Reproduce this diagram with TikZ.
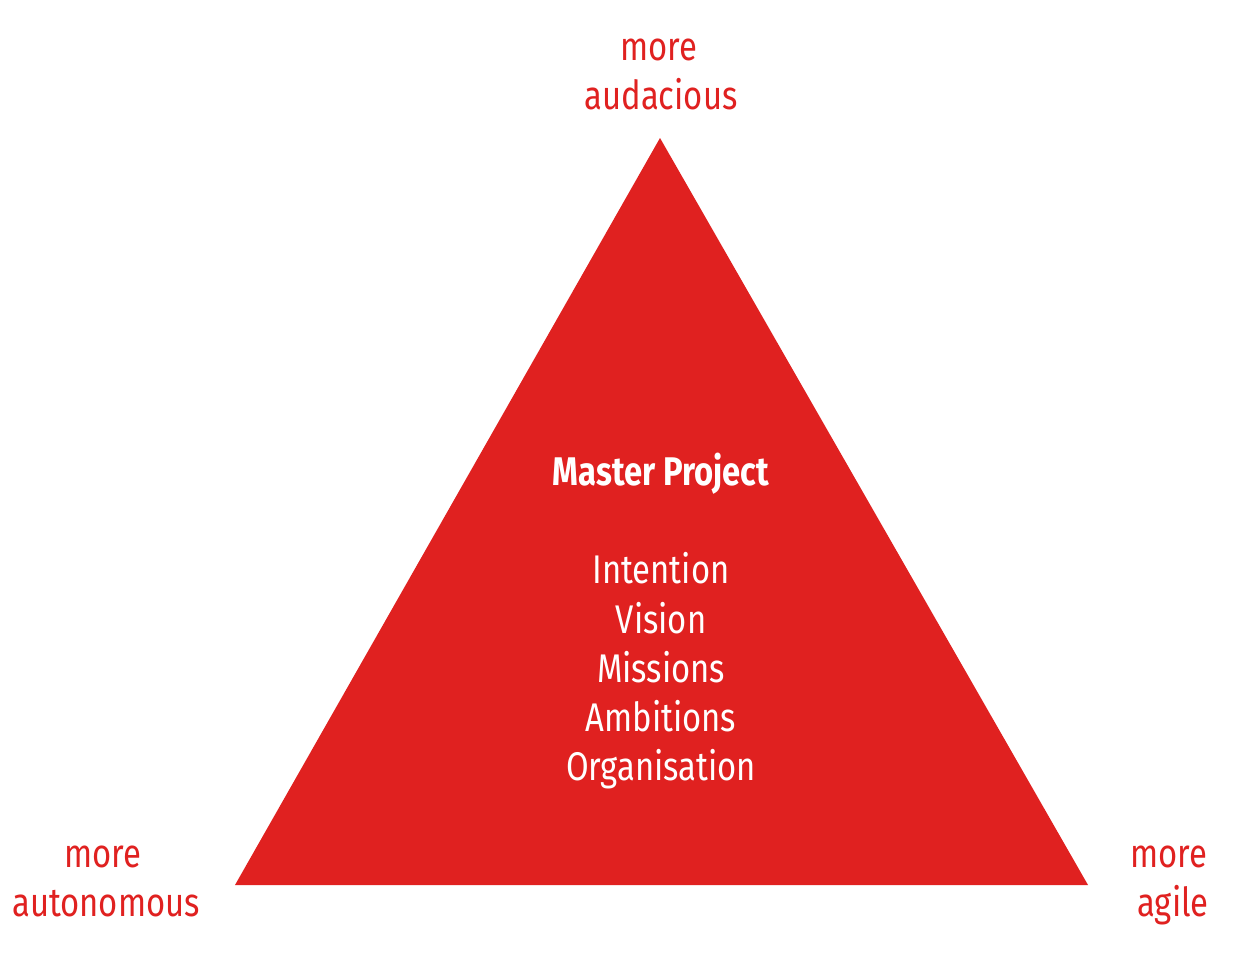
\documentclass[tikz,border=0pt]{standalone}
\usepackage{fontspec}
\setmainfont{Fira Sans}[FakeStretch=0.82]
\definecolor{tri}{HTML}{E02120}
\begin{document}
\begin{tikzpicture}[x=1pt,y=-1pt,
  lbl/.style={text=tri,font=\fontsize{40}{50}\selectfont,anchor=base,inner sep=0pt},
  inner/.style={text=white,font=\fontsize{40}{50}\selectfont,anchor=base,inner sep=0pt},
  title/.style={text=white,font=\fontsize{40}{50}\selectfont\bfseries,anchor=base,inner sep=0pt}]
\useasboundingbox[fill=white] (0,0) rectangle (1241,961);
\coordinate (apex) at (660,138);
\coordinate (bl) at (235,885);
\coordinate (br) at (1088,885);
\fill[tri] (apex) -- (bl) -- (br) -- cycle;
\node[title] (mp) at (661,485) {Master Project};
\node[inner] (i1) at (661,583) {Intention};
\node[inner] (i2) at (661,633) {Vision};
\node[inner] (i3) at (661,682) {Missions};
\node[inner] (i4) at (661,731) {Ambitions};
\node[inner] (i5) at (661,780) {Organisation};
\node[lbl] (t1) at (659,60) {more};
\node[lbl] (t2) at (661,109) {audacious};
\node[lbl] (l1) at (103,867) {more};
\node[lbl] (l2) at (106,916) {autonomous};
\node[lbl] (r1) at (1169,867) {more};
\node[lbl] (r2) at (1173,916) {agile};
\end{tikzpicture}
\end{document}
